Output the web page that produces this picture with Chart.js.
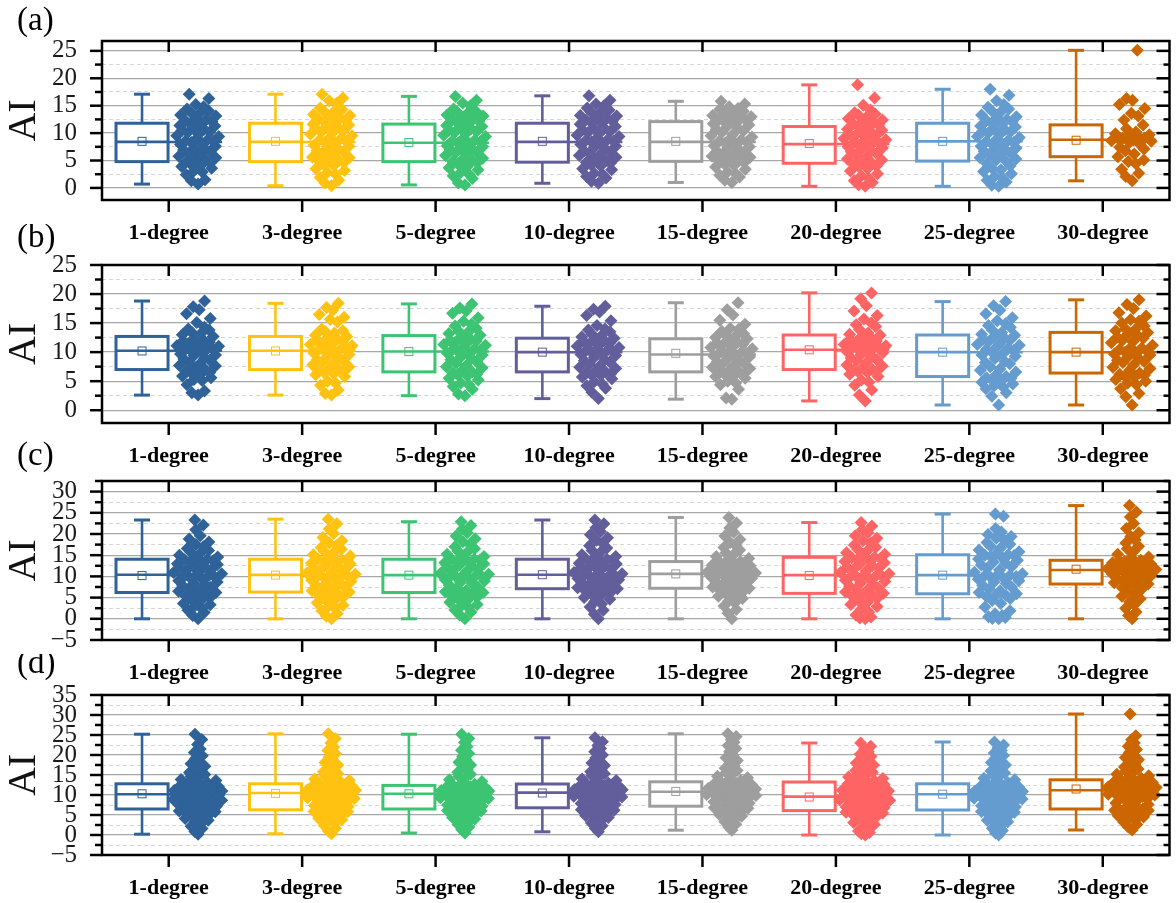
<!DOCTYPE html>
<html>
<head>
<meta charset="utf-8">
<script src="https://cdn.jsdelivr.net/npm/chart.js@4.4.1/dist/chart.umd.min.js"></script>
<style>
  html, body { margin: 0; padding: 0; background: #fff; width: 1176px; height: 903px; overflow: hidden; }
  canvas { position: absolute; left: 0; }
</style>
</head>
<body>
<canvas id="panelA" width="1176" height="250" style="top:0px"></canvas>
<canvas id="panelB" width="1176" height="249" style="top:224px"></canvas>
<canvas id="panelC" width="1176" height="250" style="top:440px"></canvas>
<canvas id="panelD" width="1176" height="251" style="top:654px"></canvas>
<script>
// Groups along the x axis and their colours
const categories = ['1-degree', '3-degree', '5-degree', '10-degree', '15-degree', '20-degree', '25-degree', '30-degree'];
const colors = ['#2E6299', '#FFC211', '#3CC472', '#625E9C', '#9E9E9E', '#FF6464', '#659CD0', '#CC6601'];

// ---------- panel (a) ----------
const yTicksA = [0, 5, 10, 15, 20, 25];
const minA  = [0.7, 0.4, 0.55, 0.85, 1.0, 0.3, 0.3, 1.3];
const q1A   = [4.8, 4.8, 4.8, 4.7, 4.85, 4.5, 4.9, 5.7];
const medA  = [8.4, 8.4, 8.25, 8.4, 8.4, 8.0, 8.5, 8.8];
const q3A   = [11.8, 11.8, 11.65, 11.8, 12.1, 11.2, 11.8, 11.5];
const maxA  = [17.1, 17.1, 16.7, 16.8, 15.8, 18.8, 18.0, 25.1];
const meanA = [8.5, 8.5, 8.3, 8.5, 8.5, 8.1, 8.5, 8.7];
const ptsA = [
  [0.7,1.3,1.5,2.4,2.9,3.1,3.6,4.0,4.3,4.5,4.7,5.1,5.2,5.8,6.1,6.2,6.9,7.2,7.3,7.9,8.1,8.3,8.6,8.8,9.4,9.5,10.1,10.2,10.7,11.0,11.3,11.4,11.7,12.1,12.2,12.7,13.1,13.3,13.6,14.1,14.4,15.2,16.3,17.1,
   3.9,5.5,6.6,7.6,8.5,9.0,9.8,10.5,11.6,12.5,13.8,14.8],
  [0.4,0.9,1.4,1.9,2.5,3.2,3.5,4.1,4.2,4.6,4.8,5.0,5.5,5.6,6.3,6.6,6.8,7.4,7.6,7.8,8.2,8.4,8.5,9.0,9.2,9.8,10.0,10.4,10.9,11.1,11.5,11.6,11.8,12.3,12.5,12.8,13.0,13.4,13.8,14.0,14.6,15.5,16.4,17.1,
   2.8,5.3,6.1,7.1,8.7,9.5,10.2,11.3,12.1,13.2,14.3,15.9],
  [0.55,0.9,1.7,2.2,2.8,3.3,3.7,3.9,4.4,4.6,4.8,5.2,5.4,5.9,6.4,6.5,7.0,7.1,7.5,7.7,8.0,8.2,8.4,8.7,9.1,9.4,9.9,10.1,10.5,10.8,11.0,11.4,11.6,11.9,12.2,12.4,12.9,13.1,13.5,14.0,14.4,15.0,16.0,16.7,
   2.5,5.0,6.2,7.3,8.6,9.6,10.3,11.2,12.6,13.3,13.8,15.5],
  [0.85,1.2,1.8,2.5,2.7,3.3,3.5,4.0,4.2,4.5,4.7,5.0,5.3,5.9,6.0,6.5,6.8,7.2,7.6,7.9,8.2,8.4,8.5,8.9,9.1,9.6,9.9,10.3,10.6,11.0,11.2,11.6,11.8,12.0,12.4,12.7,13.1,13.2,13.7,14.2,14.6,15.3,16.0,16.8,
   2.1,5.6,6.3,7.4,8.7,9.4,10.1,10.9,12.2,12.9,13.9,15.0],
  [1.0,1.4,2.0,2.3,2.9,3.4,3.8,4.1,4.3,4.6,4.9,5.1,5.6,5.8,6.2,6.7,7.0,7.3,7.7,8.0,8.2,8.4,8.6,9.0,9.3,9.7,10.1,10.4,10.9,11.2,11.5,11.9,12.1,12.3,12.6,12.8,13.2,13.4,13.7,14.0,14.3,14.8,15.3,15.8,
   2.6,5.3,6.0,6.5,7.5,8.8,9.5,10.7,11.7,12.4,13.0,14.5],
  [0.3,0.6,1.0,1.7,2.2,2.6,3.1,3.5,3.9,4.2,4.5,4.8,5.1,5.6,5.9,6.3,6.6,7.0,7.3,7.5,7.8,8.0,8.2,8.5,8.8,9.2,9.5,9.8,10.1,10.5,10.7,11.0,11.2,11.5,11.9,12.2,12.6,13.0,13.3,13.7,14.2,15.1,16.4,18.8,
   1.3,4.0,5.3,6.8,7.7,8.6,9.0,9.7,10.3,11.7,12.4,13.5],
  [0.3,0.5,1.1,1.4,2.1,2.6,3.0,3.6,4.0,4.4,4.9,5.1,5.5,5.8,6.4,6.7,7.1,7.3,7.6,8.0,8.3,8.5,8.7,9.0,9.4,9.7,10.2,10.4,10.8,11.1,11.3,11.6,11.8,12.1,12.5,12.9,13.3,13.8,14.1,14.7,15.2,15.9,16.9,18.0,
   1.8,3.3,5.3,6.1,6.9,7.8,9.2,10.0,10.6,12.3,13.0,14.4],
  [1.3,2.1,2.7,3.4,4.4,5.1,5.7,6.2,6.8,7.4,7.9,8.3,8.6,8.8,9.0,9.2,9.5,9.7,10.2,10.8,11.5,12.4,13.1,13.6,14.5,15.2,16.0,16.3,25.1,
   4.8,7.1,8.5,9.1,9.3,9.9]
];

// ---------- panel (b) ----------
const yTicksB = [0, 5, 10, 15, 20, 25];
const minB  = [2.6, 2.6, 2.5, 2.0, 1.9, 1.6, 0.9, 0.9];
const q1B   = [7.0, 7.0, 6.6, 6.6, 6.6, 7.0, 5.8, 6.4];
const medB  = [10.25, 10.25, 10.1, 10.0, 9.6, 10.4, 10.0, 10.0];
const q3B   = [12.7, 12.7, 12.85, 12.4, 12.3, 12.95, 12.95, 13.4];
const maxB  = [18.8, 18.4, 18.3, 17.9, 18.5, 20.2, 18.7, 19.0];
const meanB = [10.2, 10.2, 10.1, 10.0, 9.8, 10.4, 10.0, 10.0];
const ptsB = [
  [2.6,3.0,3.3,4.4,5.1,5.6,5.9,6.2,6.4,6.7,7.0,7.3,7.6,7.9,8.2,8.6,9.0,9.4,9.7,10.0,10.2,10.4,10.6,10.8,11.0,11.2,11.4,11.7,12.0,12.3,12.7,13.0,13.4,13.8,14.3,15.1,15.8,16.6,17.3,17.8,18.8,
   5.3,6.5,7.7,8.8,9.5,10.5,11.1,11.9,13.2,14.0],
  [2.6,2.9,3.5,4.3,5.0,5.8,6.1,6.3,6.6,6.8,7.0,7.2,7.5,8.0,8.3,8.7,9.1,9.3,9.8,10.0,10.2,10.4,10.5,10.9,11.1,11.3,11.5,11.8,12.1,12.4,12.7,12.9,13.3,13.7,14.0,15.2,15.6,16.5,17.2,17.7,18.4,
   4.7,6.4,7.8,8.5,9.6,10.6,11.4,12.2,13.5,16.0],
  [2.5,2.8,3.6,4.1,4.7,5.2,5.5,5.9,6.1,6.4,6.6,6.9,7.3,7.7,8.1,8.4,8.9,9.2,9.5,9.8,10.1,10.3,10.6,10.9,11.2,11.4,11.6,11.9,12.2,12.5,12.9,13.2,13.6,14.1,14.5,15.3,15.9,16.7,17.1,17.6,18.3,
   4.4,6.2,7.5,8.7,9.9,10.4,11.3,12.0,13.4,14.8],
  [2.0,3.1,3.8,4.2,4.9,5.4,5.7,6.0,6.2,6.4,6.6,6.8,7.2,7.6,7.9,8.3,8.7,9.1,9.4,9.7,10.0,10.1,10.3,10.5,10.8,11.0,11.3,11.6,11.9,12.1,12.4,12.8,13.1,13.5,14.0,14.6,15.4,16.3,16.9,17.4,17.9,
   4.5,6.1,7.4,8.5,9.6,10.4,11.2,12.0,12.6,13.8],
  [1.9,2.1,3.6,4.4,5.0,5.5,5.8,6.0,6.3,6.5,6.6,6.9,7.2,7.6,8.0,8.3,8.6,8.9,9.2,9.4,9.6,9.8,10.0,10.3,10.6,10.9,11.1,11.4,11.7,12.0,12.3,12.6,12.9,13.2,13.6,14.1,14.8,15.5,16.4,17.3,18.5,
   4.7,6.2,7.4,8.1,9.3,9.9,10.8,11.6,12.5,13.9],
  [1.6,2.6,3.5,4.3,5.2,5.8,6.2,6.5,6.7,6.9,7.0,7.4,7.8,8.2,8.7,9.0,9.3,9.6,9.9,10.2,10.4,10.6,10.8,11.0,11.1,11.3,11.6,11.9,12.2,12.6,12.9,13.3,13.9,14.4,15.0,15.7,16.3,17.1,18.0,19.2,20.2,
   4.8,6.6,7.6,8.5,10.0,10.9,11.5,12.4,13.1,14.7],
  [0.9,2.4,3.0,3.7,4.2,4.5,4.8,5.1,5.3,5.6,5.8,6.1,6.6,7.1,7.5,8.0,8.4,8.9,9.3,9.7,10.0,10.3,10.7,11.0,11.2,11.4,11.8,12.1,12.4,12.7,12.9,13.4,13.8,14.3,14.9,15.4,15.9,16.6,17.2,18.0,18.7,
   4.0,5.5,6.9,8.2,9.5,10.5,11.3,12.2,13.1,14.6],
  [0.9,2.3,2.9,3.7,4.4,5.0,5.3,5.7,6.0,6.2,6.4,6.9,7.4,7.8,8.2,8.6,8.9,9.2,9.5,9.8,10.0,10.2,10.5,10.8,11.2,11.6,12.0,12.4,12.8,13.1,13.4,13.7,14.0,14.5,15.0,15.6,16.2,16.8,17.5,18.2,19.0,
   4.7,5.8,7.2,8.4,9.7,10.7,11.8,12.6,13.9,15.3]
];

// ---------- panel (c) ----------
const yTicksC = [-5, 0, 5, 10, 15, 20, 25, 30];
const minC  = [0, 0, 0, 0, 0, 0, 0, 0];
const q1C   = [6.2, 6.3, 6.2, 7.1, 7.2, 6.0, 5.9, 8.2];
const medC  = [10.4, 10.35, 10.3, 10.4, 10.6, 10.3, 10.3, 11.5];
const q3C   = [14.05, 14.05, 14.05, 14.05, 13.5, 14.5, 15.1, 13.8];
const maxC  = [23.3, 23.5, 22.9, 23.3, 23.9, 22.7, 24.7, 26.7];
const meanC = [10.2, 10.3, 10.3, 10.4, 10.6, 10.2, 10.3, 11.7];
const ptsC = [
  [0.0,0.8,1.5,2.0,2.4,2.9,3.3,3.6,4.1,4.5,4.9,5.3,5.6,5.9,6.2,6.5,6.8,7.1,7.4,7.8,8.1,8.4,8.7,9.0,9.3,9.6,9.8,10.0,10.2,10.4,10.6,10.9,11.1,11.4,11.7,12.0,12.2,12.5,12.8,13.0,13.2,13.5,13.7,13.9,14.05,14.3,14.6,15.0,15.4,15.8,16.1,16.6,17.0,17.5,18.1,18.8,19.6,21.0,22.1,23.3],
  [0.0,0.6,1.2,1.9,2.5,2.8,3.2,3.8,4.2,4.6,5.0,5.4,5.7,6.0,6.3,6.6,6.9,7.3,7.6,7.9,8.2,8.5,8.8,9.1,9.4,9.7,9.9,10.1,10.3,10.35,10.5,10.8,11.0,11.3,11.6,11.9,12.3,12.6,12.9,13.1,13.3,13.6,13.8,14.0,14.05,14.4,14.8,15.1,15.5,15.9,16.4,16.8,17.3,17.9,18.4,19.2,20.1,21.2,22.4,23.5],
  [0.0,0.9,1.6,2.1,2.6,3.0,3.4,3.9,4.3,4.7,5.1,5.4,5.8,6.0,6.2,6.4,6.7,7.0,7.5,7.9,8.3,8.6,8.9,9.2,9.5,9.7,9.9,10.1,10.2,10.3,10.5,10.7,11.0,11.4,11.8,12.1,12.4,12.7,13.0,13.2,13.4,13.6,13.8,14.0,14.05,14.3,14.7,15.2,15.6,16.0,16.5,17.0,17.6,18.2,18.9,19.5,20.3,21.1,22.0,22.9],
  [0.0,1.1,2.0,2.8,3.5,4.1,4.6,5.0,5.5,5.8,6.2,6.5,6.7,6.9,7.1,7.3,7.6,7.9,8.2,8.5,8.7,9.0,9.2,9.5,9.7,9.9,10.0,10.2,10.3,10.4,10.6,10.9,11.2,11.5,11.8,12.1,12.4,12.7,12.9,13.1,13.4,13.6,13.8,14.0,14.05,14.4,14.7,15.1,15.6,16.1,16.7,17.2,17.8,18.5,19.1,19.8,20.6,21.5,22.4,23.3],
  [0.0,1.3,2.2,3.0,3.7,4.2,4.8,5.3,5.7,6.0,6.3,6.6,6.8,7.0,7.2,7.5,7.8,8.1,8.4,8.7,9.0,9.2,9.5,9.7,9.9,10.1,10.3,10.4,10.5,10.6,10.8,11.0,11.2,11.4,11.6,11.8,12.0,12.2,12.5,12.7,12.9,13.1,13.3,13.4,13.5,13.8,14.2,14.7,15.1,15.6,16.2,16.8,17.3,18.0,18.7,19.5,20.4,21.4,22.6,23.9],
  [0.0,0.2,0.4,0.9,1.6,2.3,2.9,3.4,3.9,4.3,4.8,5.2,5.5,5.8,6.0,6.3,6.6,7.0,7.3,7.7,8.1,8.5,8.8,9.1,9.4,9.7,9.9,10.1,10.2,10.3,10.6,10.9,11.3,11.6,11.9,12.2,12.5,12.9,13.2,13.5,13.7,14.0,14.2,14.4,14.5,14.8,15.2,15.6,16.0,16.4,16.9,17.4,17.9,18.4,19.0,19.6,20.3,21.0,21.9,22.7],
  [0.0,0.1,0.3,0.5,0.8,1.2,1.9,2.8,3.6,4.3,4.8,5.2,5.5,5.7,5.9,6.2,6.6,7.0,7.5,7.9,8.3,8.7,9.0,9.3,9.6,9.8,10.0,10.1,10.2,10.3,10.6,11.0,11.5,11.9,12.3,12.7,13.1,13.4,13.8,14.1,14.4,14.7,14.9,15.0,15.1,15.4,15.8,16.2,16.7,17.1,17.6,18.0,18.5,19.0,19.4,19.9,20.5,21.3,24.2,24.7],
  [0.0,0.8,1.6,2.5,3.3,4.0,4.7,5.3,5.9,6.4,6.9,7.3,7.7,8.0,8.2,8.5,8.8,9.0,9.3,9.5,9.8,10.0,10.3,10.5,10.7,10.9,11.1,11.3,11.4,11.5,11.6,11.8,11.9,12.1,12.3,12.5,12.6,12.8,13.0,13.2,13.4,13.5,13.6,13.7,13.8,14.2,14.6,15.2,15.8,16.5,17.1,17.9,18.6,19.4,20.3,21.3,22.5,24.0,25.2,26.7]
];

// ---------- panel (d) ----------
const yTicksD = [-5, 0, 5, 10, 15, 20, 25, 30, 35];
const minD  = [0.2, 0.3, 0.5, 0.8, 1.2, 0, 0, 1.25];
const q1D   = [6.5, 6.3, 6.5, 6.8, 7.2, 6.1, 6.25, 6.5];
const medD  = [10.2, 10.5, 10.3, 10.6, 10.8, 9.6, 10.2, 11.2];
const q3D   = [12.8, 12.8, 12.4, 12.75, 13.3, 13.25, 12.8, 13.8];
const maxD  = [25.2, 25.3, 25.2, 24.3, 25.3, 23.0, 23.25, 30.25];
const meanD = [10.3, 10.4, 10.3, 10.5, 10.9, 9.5, 10.2, 11.5];
const ptsD = [
  [0.2,0.9,1.6,2.2,2.8,3.3,3.7,4.1,4.4,4.7,5.0,5.2,5.4,5.6,5.8,6.0,6.1,6.2,6.4,6.5,6.7,6.9,7.1,7.3,7.5,7.7,7.9,8.1,8.3,8.5,8.7,8.9,9.1,9.3,9.5,9.7,9.8,9.9,10.0,10.2,10.3,10.4,10.5,10.6,10.8,10.9,11.0,11.1,11.3,11.4,11.5,11.7,11.8,11.9,12.1,12.2,12.4,12.5,12.7,12.8,13.0,13.3,13.6,13.9,14.3,14.7,15.1,15.6,16.1,16.6,17.2,17.8,18.4,19.1,19.8,20.6,21.5,22.6,23.9,25.2],
  [0.3,1.0,1.7,2.4,2.9,3.4,3.8,4.2,4.5,4.8,5.0,5.2,5.4,5.6,5.8,5.9,6.0,6.1,6.2,6.3,6.5,6.8,7.1,7.4,7.7,8.0,8.3,8.5,8.7,8.9,9.1,9.3,9.5,9.7,9.9,10.0,10.1,10.2,10.4,10.5,10.6,10.7,10.8,10.9,11.0,11.1,11.2,11.3,11.5,11.6,11.7,11.8,11.9,12.0,12.2,12.3,12.4,12.5,12.7,12.8,13.1,13.4,13.7,14.0,14.4,14.8,15.3,15.8,16.3,16.9,17.5,18.1,18.8,19.5,20.3,21.1,22.0,23.0,24.1,25.3],
  [0.5,1.3,2.0,2.6,3.1,3.6,4.0,4.4,4.7,5.0,5.3,5.5,5.7,5.9,6.0,6.1,6.2,6.3,6.4,6.5,6.7,6.9,7.2,7.5,7.8,8.0,8.3,8.5,8.7,8.9,9.1,9.3,9.5,9.7,9.8,9.9,10.0,10.1,10.2,10.3,10.4,10.5,10.6,10.7,10.8,10.9,11.0,11.1,11.2,11.3,11.4,11.5,11.6,11.7,11.8,11.9,12.0,12.1,12.3,12.4,12.7,13.0,13.4,13.8,14.2,14.7,15.2,15.7,16.3,16.9,17.5,18.2,18.9,19.6,20.4,21.2,22.1,23.1,24.1,25.2],
  [0.8,1.6,2.3,3.0,3.5,4.0,4.4,4.8,5.1,5.4,5.6,5.8,6.0,6.1,6.2,6.3,6.4,6.5,6.6,6.8,7.0,7.3,7.6,7.9,8.2,8.5,8.7,8.9,9.1,9.3,9.5,9.7,9.9,10.0,10.1,10.2,10.3,10.4,10.5,10.6,10.7,10.8,10.9,11.0,11.1,11.2,11.3,11.4,11.5,11.6,11.7,11.8,11.9,12.0,12.1,12.2,12.3,12.5,12.6,12.75,13.0,13.3,13.6,14.0,14.4,14.8,15.3,15.8,16.3,16.8,17.4,18.0,18.6,19.3,20.0,20.8,21.6,22.4,23.3,24.3],
  [1.2,2.0,2.7,3.3,3.8,4.3,4.7,5.1,5.4,5.7,6.0,6.2,6.4,6.6,6.7,6.8,6.9,7.0,7.1,7.2,7.4,7.7,8.0,8.3,8.6,8.9,9.1,9.3,9.5,9.7,9.9,10.1,10.2,10.3,10.4,10.5,10.6,10.7,10.7,10.8,10.9,11.0,11.1,11.2,11.3,11.4,11.5,11.6,11.8,11.9,12.0,12.2,12.3,12.5,12.6,12.8,12.9,13.0,13.2,13.3,13.6,13.9,14.3,14.7,15.1,15.6,16.1,16.7,17.3,17.9,18.6,19.3,20.0,20.8,21.6,22.4,23.2,23.9,24.6,25.3],
  [0.0,0.3,0.6,1.0,1.5,2.0,2.6,3.1,3.6,4.0,4.4,4.8,5.1,5.3,5.5,5.7,5.8,5.9,6.0,6.1,6.3,6.5,6.8,7.0,7.3,7.5,7.8,8.0,8.2,8.4,8.6,8.8,9.0,9.1,9.2,9.3,9.4,9.5,9.55,9.6,9.8,10.0,10.2,10.4,10.6,10.8,11.0,11.2,11.4,11.6,11.8,12.0,12.2,12.4,12.6,12.8,12.9,13.0,13.1,13.25,13.5,13.8,14.1,14.5,14.9,15.3,15.7,16.1,16.5,17.0,17.5,18.0,18.5,19.0,19.6,20.2,20.8,21.5,22.2,23.0],
  [0.0,0.5,1.1,1.7,2.3,2.8,3.3,3.7,4.1,4.5,4.8,5.1,5.3,5.5,5.7,5.9,6.0,6.1,6.2,6.25,6.4,6.7,7.0,7.3,7.6,7.9,8.2,8.4,8.6,8.8,9.0,9.2,9.4,9.6,9.7,9.8,9.9,10.0,10.1,10.2,10.3,10.4,10.5,10.6,10.7,10.8,10.9,11.0,11.1,11.3,11.4,11.5,11.7,11.8,12.0,12.1,12.3,12.5,12.6,12.8,13.1,13.4,13.8,14.2,14.6,15.0,15.5,16.0,16.5,17.0,17.5,18.1,18.7,19.3,19.9,20.5,21.1,21.8,22.5,23.25],
  [1.25,2.0,2.6,3.2,3.7,4.1,4.5,4.8,5.1,5.4,5.6,5.8,5.9,6.0,6.1,6.2,6.3,6.4,6.45,6.5,6.8,7.2,7.6,8.0,8.4,8.7,9.0,9.3,9.6,9.8,10.0,10.2,10.4,10.6,10.7,10.8,10.9,11.0,11.1,11.2,11.3,11.4,11.5,11.6,11.7,11.8,11.9,12.0,12.2,12.3,12.5,12.6,12.8,12.9,13.1,13.2,13.4,13.5,13.7,13.8,14.1,14.4,14.8,15.2,15.6,16.0,16.5,17.0,17.6,18.2,18.8,19.4,20.0,20.7,21.4,22.2,23.0,23.8,24.8,30.25]
];

// ---------- drawing helpers ----------
const SERIF = '"Liberation Serif", "Times New Roman", serif';
const BOX_SHIFT = -0.2;     // box sits left of the category tick
const BOX_HALF = 0.195;     // half box width, in category units
const CAP_HALF = 0.06;      // whisker cap half width
const SWARM_SHIFT = 0.22;   // point cloud sits right of the category tick

function isMajor(v) { return Math.abs(v / 5 - Math.round(v / 5)) < 1e-6; }
function withMinor(majors, lo, hi) {
  const out = [];
  for (let k = 0; k < majors.length; k++) {
    out.push(majors[k]);
    const mid = majors[k] + 2.5;
    if (k < majors.length - 1 || mid <= hi + 1e-6) out.push(mid);
  }
  const below = majors[0] - 2.5;
  if (below >= lo - 1e-6) out.unshift(below);
  return out.filter(v => v >= lo - 1e-6 && v <= hi + 1e-6);
}
function fmtTick(v) { return v < 0 ? '\u2212' + Math.abs(v) : String(v); }

// van der Corput sequence: spreads neighbouring ranks across the band
function vdc(n) { let v = 0, d = 1; while (n > 0) { d *= 2; v += (n % 2) / d; n = Math.floor(n / 2); } return v; }

// Horizontal placement of the points: width follows the local density of values
function swarmX(vals, center, half, base, bw) {
  const dens = vals.map(v => vals.reduce((s, w) => s + Math.exp(-0.5 * ((v - w) / bw) ** 2), 0));
  const mx = Math.max(...dens);
  const order = vals.map((v, k) => k).sort((a, b) => vals[a] - vals[b]);
  const xs = new Array(vals.length);
  order.forEach((k, r) => {
    const u = 2 * vdc(r + 1) - 1;
    xs[k] = center + u * half * (base + (1 - base) * dens[k] / mx);
  });
  return xs;
}

function line(ctx, x1, y1, x2, y2) { ctx.beginPath(); ctx.moveTo(x1, y1); ctx.lineTo(x2, y2); ctx.stroke(); }

function buildPanel(id, p) {
  const ticks = withMinor(p.majors, p.yMin, p.yMax);

  const datasets = p.pts.map((vals, g) => {
    const xs = swarmX(vals, g + 1 + SWARM_SHIFT, p.half, p.base, p.bw);
    return {
      data: vals.map((v, k) => ({ x: xs[k], y: v })),
      pointStyle: 'rectRot',
      pointRadius: 6.5,
      pointHoverRadius: 6.5,
      backgroundColor: colors[g],
      borderWidth: 0
    };
  });

  // box, whiskers, median and mean for each group
  const boxPlugin = {
    id: 'boxes_' + id,
    beforeDatasetsDraw(chart) {
      const { ctx, scales: { x, y } } = chart;
      ctx.save();
      for (let g = 0; g < categories.length; g++) {
        const c = g + 1 + BOX_SHIFT;
        const xc = x.getPixelForValue(c);
        const xl = x.getPixelForValue(c - BOX_HALF);
        const xr = x.getPixelForValue(c + BOX_HALF);
        const cl = x.getPixelForValue(c - CAP_HALF);
        const cr = x.getPixelForValue(c + CAP_HALF);
        const yMin = y.getPixelForValue(p.min[g]);
        const yQ1 = y.getPixelForValue(p.q1[g]);
        const yMed = y.getPixelForValue(p.med[g]);
        const yQ3 = y.getPixelForValue(p.q3[g]);
        const yMax = y.getPixelForValue(p.max[g]);
        const yMean = y.getPixelForValue(p.mean[g]);
        ctx.strokeStyle = colors[g];
        ctx.lineCap = 'butt';
        // median reaching across the point cloud
        ctx.lineWidth = 2.5;
        line(ctx, xr, yMed, x.getPixelForValue(g + 1 + 0.4), yMed);
        // whiskers
        ctx.lineWidth = 2.6;
        line(ctx, xc, yQ3, xc, yMax);
        line(ctx, xc, yQ1, xc, yMin);
        ctx.lineWidth = 3;
        line(ctx, cl, yMax, cr, yMax);
        line(ctx, cl, yMin, cr, yMin);
        // box
        ctx.fillStyle = '#fff';
        ctx.fillRect(xl, yQ3, xr - xl, yQ1 - yQ3);
        ctx.lineWidth = 3;
        ctx.strokeRect(xl, yQ3, xr - xl, yQ1 - yQ3);
        ctx.lineWidth = 2.6;
        line(ctx, xl, yMed, xr, yMed);
        // mean marker
        ctx.lineWidth = 1;
        ctx.strokeRect(xc - 4, yMean - 4, 8, 8);
      }
      ctx.restore();
    }
  };

  // frame, tick marks and panel letter
  const framePlugin = {
    id: 'frame_' + id,
    afterDraw(chart) {
      const { ctx, chartArea: { left, right, top, bottom }, scales: { x, y } } = chart;
      ctx.save();
      ctx.strokeStyle = '#000';
      ctx.lineWidth = 2.5;
      ctx.lineCap = 'butt';
      ticks.forEach(v => {
        const py = y.getPixelForValue(v);
        const maj = isMajor(v);
        line(ctx, left - (maj ? 12 : 7), py, left, py);
        line(ctx, right - (maj ? 13 : 6), py, right, py);
      });
      categories.forEach((c, i) => {
        const px = x.getPixelForValue(i + 1);
        line(ctx, px, top, px, top + 11);
        line(ctx, px, bottom, px, bottom + 12);
      });
      ctx.strokeRect(left, top, right - left, bottom - top);
      ctx.fillStyle = '#000';
      ctx.font = '33px ' + SERIF;
      ctx.textAlign = 'left';
      ctx.textBaseline = 'alphabetic';
      ctx.fillText(p.letter, 17, top - p.letterRaise);
      ctx.restore();
    }
  };

  return new Chart(document.getElementById(id), {
    type: 'scatter',
    data: { datasets },
    plugins: [boxPlugin, framePlugin],
    options: {
      responsive: false,
      animation: false,
      events: [],
      layout: { padding: { top: 41, right: 4, left: 0, bottom: 0 } },
      plugins: { legend: { display: false }, tooltip: { enabled: false } },
      scales: {
        x: {
          type: 'linear',
          min: 0.5,
          max: 8.5,
          afterBuildTicks: s => { s.ticks = categories.map((c, i) => ({ value: i + 1 })); },
          afterFit: s => { s.height = 50; },
          grid: { display: false, drawTicks: false },
          border: { display: false },
          ticks: {
            autoSkip: false,
            maxRotation: 0,
            minRotation: 0,
            padding: 20,
            color: '#000',
            font: { family: SERIF, size: 22, weight: 'bold' },
            callback: v => categories[Math.round(v) - 1] || ''
          }
        },
        y: {
          type: 'linear',
          min: p.yMin,
          max: p.yMax,
          afterBuildTicks: s => { s.ticks = ticks.map(v => ({ value: v })); },
          afterFit: s => { s.width = 102; },
          grid: {
            drawTicks: false,
            color: c => (c.tick && isMajor(c.tick.value)) ? '#a8a8a8' : '#d6d6d6',
            lineWidth: c => (c.tick && isMajor(c.tick.value)) ? 1.3 : 1
          },
          border: {
            display: false,
            dash: c => (c.tick && !isMajor(c.tick.value)) ? [4, 3] : []
          },
          ticks: {
            autoSkip: false,
            padding: 25,
            color: '#1a1a1a',
            font: { family: SERIF, size: 25 },
            callback: v => isMajor(v) ? fmtTick(v) : ''
          },
          title: {
            display: true,
            text: 'AI',
            color: '#111',
            font: { family: SERIF, size: 40, lineHeight: 1 },
            padding: { top: 4, bottom: 0 }
          }
        }
      }
    }
  });
}

buildPanel('panelA', { letter: '(a)', letterRaise: 11, yMin: -2.2, yMax: 26.8, majors: yTicksA, base: 0.4, half: 0.165, bw: 1.5,
  min: minA, q1: q1A, med: medA, q3: q3A, max: maxA, mean: meanA, pts: ptsA });
buildPanel('panelB', { letter: '(b)', letterRaise: 18, yMin: -2.2, yMax: 25, majors: yTicksB, base: 0.4, half: 0.165, bw: 1.5,
  min: minB, q1: q1B, med: medB, q3: q3B, max: maxB, mean: meanB, pts: ptsB });
buildPanel('panelC', { letter: '(c)', letterRaise: 16, yMin: -5, yMax: 32.5, majors: yTicksC, base: 0.12, half: 0.19, bw: 2.0,
  min: minC, q1: q1C, med: medC, q3: q3C, max: maxC, mean: meanC, pts: ptsC });
buildPanel('panelD', { letter: '(d)', letterRaise: 22, yMin: -5, yMax: 35, majors: yTicksD, base: 0.05, half: 0.2, bw: 2.0,
  min: minD, q1: q1D, med: medD, q3: q3D, max: maxD, mean: meanD, pts: ptsD });
</script>
</body>
</html>
